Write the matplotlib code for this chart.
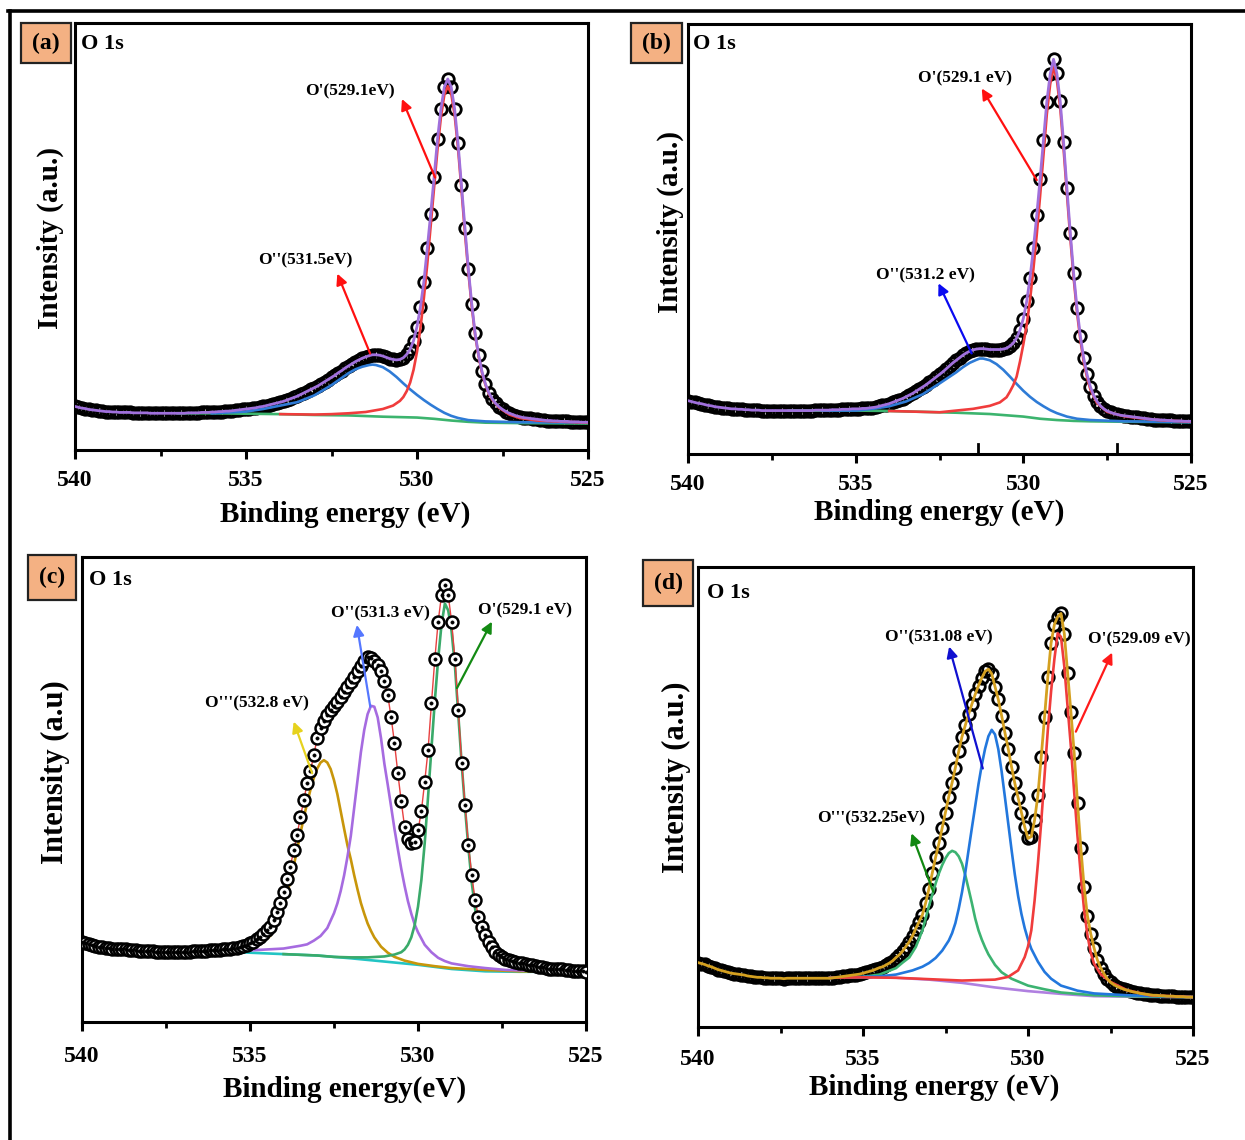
import numpy as np
import matplotlib
matplotlib.use("Agg")
import matplotlib.pyplot as plt
from matplotlib.patches import Rectangle
from matplotlib.lines import Line2D

plt.rcParams["font.family"] = ["Liberation Serif", "DejaVu Serif"]
plt.rcParams["font.weight"] = "bold"

W, H = 1245, 1140

# ---------------- data ----------------
# measured binding-energy grid (eV), 540 -> 525 in 0.1 eV steps
energy = np.round(np.arange(540.0, 524.95, -0.1), 1)
xticks = [540, 535, 530, 525]
xtick_labels = ["540", "535", "530", "525"]
minor_ticks = [537.5, 532.5, 527.5]

# intensities in arbitrary units (0-100 = axis height)
a_data = [10.2, 10.0, 9.8, 9.7, 9.5, 9.4, 9.3, 9.2, 9.1, 9.0,
          9.0, 8.9, 8.9, 8.8, 8.8, 8.8, 8.8, 8.7, 8.7, 8.7,
          8.7, 8.7, 8.6, 8.6, 8.6, 8.6, 8.6, 8.6, 8.6, 8.6,
          8.6, 8.6, 8.6, 8.7, 8.7, 8.7, 8.7, 8.8, 8.8, 8.8,
          8.9, 8.9, 9.0, 9.0, 9.1, 9.1, 9.2, 9.3, 9.4, 9.5,
          9.6, 9.7, 9.8, 9.9, 10.1, 10.2, 10.4, 10.6, 10.8, 11.0,
          11.2, 11.4, 11.7, 12.0, 12.3, 12.6, 13.0, 13.4, 13.8, 14.2,
          14.6, 15.0, 15.5, 16.0, 16.5, 17.0, 17.5, 18.1, 18.6, 19.2,
          19.7, 20.2, 20.7, 21.1, 21.5, 21.8, 22.1, 22.3, 22.3, 22.2,
          22.0, 21.7, 21.4, 21.2, 21.1, 21.2, 21.6, 22.4, 23.6, 25.6,
          28.9, 33.5, 39.4, 47.2, 55.3, 63.9, 72.8, 79.9, 85.0, 86.9,
          85.0, 79.9, 71.8, 62.0, 51.9, 42.5, 34.3, 27.3, 22.3, 18.4,
          15.5, 13.4, 12.0, 10.9, 10.1, 9.5, 9.0, 8.6, 8.3, 8.0,
          7.8, 7.6, 7.5, 7.4, 7.3, 7.2, 7.1, 7.0, 6.9, 6.9,
          6.8, 6.8, 6.7, 6.7, 6.7, 6.6, 6.6, 6.6, 6.5, 6.5,
          6.5]

b_data = [12.4, 12.2, 12.0, 11.8, 11.7, 11.5, 11.3, 11.2, 11.0, 10.9,
          10.8, 10.7, 10.6, 10.5, 10.5, 10.4, 10.4, 10.3, 10.3, 10.2,
          10.2, 10.2, 10.1, 10.1, 10.1, 10.1, 10.1, 10.1, 10.1, 10.1,
          10.1, 10.1, 10.1, 10.1, 10.1, 10.1, 10.1, 10.1, 10.2, 10.2,
          10.2, 10.2, 10.2, 10.3, 10.3, 10.3, 10.4, 10.4, 10.4, 10.5,
          10.5, 10.5, 10.6, 10.6, 10.7, 10.8, 10.9, 11.1, 11.3, 11.5,
          11.7, 12.0, 12.3, 12.6, 12.9, 13.3, 13.7, 14.1, 14.6, 15.1,
          15.6, 16.1, 16.7, 17.3, 17.9, 18.5, 19.1, 19.8, 20.5, 21.2,
          21.8, 22.4, 23.0, 23.5, 23.9, 24.2, 24.4, 24.5, 24.5, 24.4,
          24.3, 24.3, 24.3, 24.3, 24.4, 24.6, 25.1, 25.8, 27.0, 28.8,
          31.5, 35.5, 41.0, 47.8, 55.5, 64.0, 73.0, 81.9, 88.3, 91.8,
          88.5, 82.0, 72.5, 61.8, 51.5, 42.0, 34.0, 27.5, 22.3, 18.5,
          15.6, 13.6, 12.2, 11.2, 10.5, 10.0, 9.7, 9.4, 9.2, 9.0,
          8.9, 8.8, 8.7, 8.6, 8.5, 8.4, 8.3, 8.2, 8.1, 8.0,
          8.0, 7.9, 7.9, 7.8, 7.8, 7.7, 7.7, 7.7, 7.6, 7.6,
          7.6]

c_data = [17.3, 17.0, 16.8, 16.6, 16.4, 16.2, 16.1, 16.0, 15.9, 15.8,
          15.8, 15.7, 15.6, 15.6, 15.5, 15.4, 15.4, 15.3, 15.3, 15.2,
          15.2, 15.2, 15.1, 15.1, 15.1, 15.1, 15.1, 15.1, 15.1, 15.1,
          15.1, 15.1, 15.1, 15.2, 15.2, 15.2, 15.3, 15.3, 15.4, 15.4,
          15.5, 15.5, 15.6, 15.7, 15.8, 15.9, 16.0, 16.2, 16.4, 16.6,
          16.9, 17.3, 17.8, 18.3, 19.0, 19.7, 20.4, 21.9, 23.6, 25.5,
          28.0, 30.8, 33.4, 36.9, 40.2, 44.1, 47.7, 51.3, 54.0, 57.5,
          61.0, 63.3, 64.8, 66.0, 67.0, 67.9, 68.8, 69.9, 71.0, 72.0,
          73.1, 74.2, 75.4, 76.6, 77.6, 78.4, 78.3, 77.6, 76.8, 75.4,
          73.4, 70.3, 65.5, 60.0, 53.5, 47.5, 42.0, 39.3, 38.4, 38.8,
          41.2, 45.3, 51.7, 58.5, 68.5, 78.0, 86.1, 91.8, 94.0, 91.8,
          86.1, 78.0, 67.1, 55.7, 46.7, 38.1, 31.6, 26.2, 22.6, 20.4,
          18.7, 17.2, 16.1, 15.1, 14.5, 14.0, 13.6, 13.3, 13.1, 12.9,
          12.7, 12.6, 12.4, 12.3, 12.2, 12.0, 11.9, 11.8, 11.6, 11.5,
          11.5, 11.4, 11.3, 11.3, 11.2, 11.1, 11.0, 11.0, 10.9, 10.9,
          10.8]

d_data = [14.0, 13.8, 13.6, 13.3, 13.1, 12.8, 12.5, 12.3, 12.1, 11.9,
          11.7, 11.6, 11.5, 11.4, 11.3, 11.1, 11.0, 10.9, 10.8, 10.8,
          10.7, 10.7, 10.6, 10.6, 10.6, 10.6, 10.5, 10.6, 10.6, 10.6,
          10.6, 10.6, 10.6, 10.6, 10.6, 10.6, 10.6, 10.6, 10.6, 10.6,
          10.6, 10.7, 10.8, 10.9, 11.0, 11.1, 11.2, 11.3, 11.4, 11.5,
          11.7, 11.9, 12.1, 12.3, 12.6, 12.9, 13.1, 13.5, 13.9, 14.4,
          15.1, 15.7, 16.5, 17.5, 18.5, 19.8, 21.4, 22.9, 24.4, 27.0,
          30.1, 33.5, 36.9, 39.9, 43.3, 46.6, 50.1, 53.1, 56.4, 59.9,
          63.1, 65.6, 68.0, 70.2, 72.3, 74.2, 75.9, 77.3, 77.8, 76.8,
          74.0, 71.2, 67.7, 64.0, 60.5, 56.6, 53.0, 49.8, 46.6, 43.5,
          41.0, 41.4, 45.0, 50.4, 58.6, 67.3, 76.0, 83.5, 87.5, 89.2,
          89.9, 85.5, 77.0, 68.5, 59.5, 48.8, 39.0, 30.5, 24.2, 20.3,
          17.2, 14.6, 12.9, 11.6, 10.5, 9.7, 9.2, 8.8, 8.5, 8.2,
          8.0, 7.8, 7.6, 7.5, 7.3, 7.2, 7.1, 7.0, 6.9, 6.9,
          6.8, 6.8, 6.7, 6.7, 6.7, 6.6, 6.6, 6.6, 6.5, 6.5,
          6.5]

# ---- fitted components (energy, intensity) ----
a_o1_e = [534.0, 533.0, 532.5, 532.0, 531.5, 531.0, 530.7, 530.5, 530.4, 530.3, 530.2, 530.1, 530.0,
          529.9, 529.8, 529.7, 529.6, 529.5, 529.4, 529.3, 529.2, 529.1, 529.0,
          528.9, 528.8, 528.7, 528.6, 528.5, 528.4, 528.3, 528.2, 528.1, 528.0,
          527.9, 527.8, 527.6, 527.3, 527.0, 526.5, 526.0, 525.0]
a_o1_i = [8.4, 8.3, 8.4, 8.6, 8.9, 9.6, 10.4, 11.5, 12.4, 13.8, 15.8, 18.8, 23.0,
          28.5, 35.5, 43.5, 52.5, 61.5, 70.5, 78.0, 83.2, 85.2, 83.5,
          78.5, 70.6, 61.0, 51.0, 41.8, 33.7, 26.9, 22.0, 18.1, 15.3,
          13.2, 11.8, 9.9, 8.3, 7.5, 6.9, 6.7, 6.4]
a_o2_e = [536.0, 535.0, 534.5, 534.0, 533.5, 533.0, 532.5, 532.0, 531.8, 531.6, 531.4, 531.3, 531.2,
          531.0, 530.8, 530.6, 530.4, 530.2, 530.0, 529.8, 529.6, 529.4, 529.2,
          529.0, 528.8, 528.5, 528.0, 527.0, 525.0]
a_o2_i = [8.6, 9.0, 9.6, 10.4, 11.2, 12.8, 15.2, 18.0, 18.9, 19.5, 19.9, 20.0, 19.9,
          19.4, 18.4, 17.1, 15.6, 14.2, 12.9, 11.7, 10.6, 9.6, 8.7,
          8.0, 7.5, 7.0, 6.7, 6.5, 6.4]
a_bg_e = [537.0, 536.0, 535.0, 534.0, 533.0, 532.0, 531.0, 530.0, 529.5, 529.0, 528.5, 528.0, 527.0, 525.0]
a_bg_i = [8.6, 8.6, 8.5, 8.4, 8.2, 8.1, 7.8, 7.6, 7.3, 6.9, 6.6, 6.4, 6.3, 6.2]

b_o1_e = [534.0, 533.0, 532.5, 532.0, 531.5, 531.0, 530.7, 530.5, 530.4, 530.3, 530.2, 530.1,
          530.0, 529.9, 529.8, 529.7, 529.6, 529.5, 529.4, 529.3, 529.2, 529.1,
          529.0, 528.9, 528.8, 528.7, 528.6, 528.5, 528.4, 528.3, 528.2, 528.1,
          528.0, 527.8, 527.5, 527.0, 526.5, 526.0, 525.0]
b_o1_i = [10.0, 9.8, 9.7, 10.1, 10.5, 11.2, 12.0, 13.2, 14.5, 16.0, 18.0, 21.5,
          25.5, 30.0, 35.8, 43.0, 51.0, 60.0, 69.5, 79.0, 86.0, 90.0,
          87.0, 80.5, 71.0, 60.5, 50.3, 41.0, 33.0, 26.6, 21.5, 17.8,
          15.0, 11.8, 9.8, 8.8, 8.3, 7.9, 7.5]
b_o2_e = [536.0, 535.0, 534.5, 534.0, 533.5, 533.0, 532.5, 532.0, 531.8, 531.6, 531.4, 531.3, 531.2,
          531.0, 530.8, 530.6, 530.4, 530.2, 530.0, 529.8, 529.6, 529.4, 529.2,
          529.0, 528.7, 528.4, 528.0, 527.0, 525.0]
b_o2_i = [10.1, 10.1, 10.5, 11.1, 12.2, 13.9, 16.4, 19.0, 20.2, 21.2, 21.9, 22.2, 22.2,
          21.8, 20.9, 19.6, 18.0, 16.3, 14.7, 13.3, 12.1, 11.1, 10.2,
          9.5, 8.7, 8.2, 7.9, 7.6, 7.4]
b_bg_e = [537.0, 536.0, 535.0, 534.0, 533.0, 532.0, 531.0, 530.0, 529.5, 529.0, 528.5, 528.0, 527.0, 525.0]
b_bg_i = [10.1, 10.1, 10.1, 10.0, 9.8, 9.6, 9.3, 8.7, 8.2, 7.9, 7.7, 7.6, 7.5, 7.4]

c_o3_e = [535.5, 535.0, 534.8, 534.6, 534.4, 534.2,
          534.0, 533.9, 533.8, 533.7, 533.6, 533.5, 533.4, 533.3, 533.2, 533.1,
          533.0, 532.9, 532.8, 532.7, 532.6, 532.5, 532.4, 532.3, 532.2, 532.1,
          532.0, 531.9, 531.8, 531.7, 531.6, 531.5, 531.4, 531.3,
          531.1, 530.9, 530.7, 530.4, 530.0, 529.5, 529.0, 528.0, 527.0, 525.0]
c_o3_i = [15.5, 16.0, 16.5, 17.3, 18.5, 21.0,
          25.0, 27.6, 30.2, 33.5, 37.0, 40.5, 44.0, 47.0, 50.0, 52.5,
          54.5, 55.8, 56.3, 55.8, 54.4, 52.0, 49.0, 45.3, 41.6, 38.0,
          35.0, 31.6, 28.5, 25.6, 23.3, 21.2, 19.6, 18.2,
          16.2, 14.9, 14.0, 13.2, 12.5, 12.0, 11.6, 11.2, 10.9, 10.8]
c_o2_e = [535.5, 535.0, 534.5, 534.0, 533.5, 533.3, 533.1, 532.9, 532.7, 532.5,
          532.4, 532.3, 532.2, 532.1, 532.0, 531.9, 531.8, 531.7, 531.6, 531.5,
          531.4, 531.3, 531.2, 531.1, 531.0, 530.9, 530.8, 530.7, 530.6, 530.5,
          530.4, 530.3, 530.2, 530.1, 530.0,
          529.8, 529.6, 529.4, 529.2, 529.0, 528.5, 528.0, 527.4, 526.5, 525.0]
c_o2_i = [15.3, 15.4, 15.6, 15.8, 16.4, 16.7, 17.5, 18.5, 20.2, 23.4,
          25.5, 28.2, 31.5, 35.5, 40.0, 46.0, 52.0, 58.0, 62.8, 66.2,
          68.0, 67.8, 65.5, 61.0, 55.5, 51.0, 46.3, 41.5, 37.2, 33.0,
          29.3, 26.0, 23.3, 21.0, 19.3,
          16.6, 15.0, 13.8, 13.1, 12.6, 12.0, 11.6, 11.2, 11.0, 10.8]
c_o1_e = [534.0, 533.0, 532.5, 532.0, 531.5, 531.0, 530.7, 530.5, 530.4, 530.3, 530.2, 530.1,
          530.0, 529.9, 529.8, 529.7, 529.6, 529.5, 529.4, 529.3, 529.2, 529.1,
          529.0, 528.9, 528.8, 528.7, 528.6, 528.5, 528.4, 528.3, 528.2, 528.1,
          528.0, 527.8, 527.5, 527.0, 526.5, 526.0, 525.0]
c_o1_i = [14.6, 14.3, 14.0, 13.9, 13.9, 14.1, 14.5, 15.0, 15.6, 16.6, 18.2, 20.8,
          24.8, 30.5, 38.5, 48.5, 58.8, 69.0, 78.0, 85.5, 90.0, 88.5,
          84.0, 76.5, 66.0, 55.5, 46.0, 37.5, 30.0, 24.3, 20.8, 18.3,
          16.6, 14.5, 13.0, 11.8, 11.3, 10.9, 10.8]
c_bg_e = [535.8, 535.0, 534.0, 533.0, 532.0, 531.0, 530.0, 529.0, 528.0, 527.0, 525.0]
c_bg_i = [15.2, 14.9, 14.6, 14.3, 13.7, 13.0, 12.3, 11.4, 10.9, 10.8, 10.8]

d_o2_e = [536.0, 535.0, 534.5, 534.0, 533.5, 533.2, 533.0, 532.8, 532.6, 532.4,
          532.3, 532.2, 532.1, 532.0, 531.9, 531.8, 531.7, 531.6, 531.5, 531.4,
          531.3, 531.2, 531.1, 531.0, 530.9, 530.8, 530.7, 530.6, 530.5, 530.4,
          530.3, 530.2, 530.1, 530.0, 529.9,
          529.7, 529.5, 529.3, 529.0, 528.5, 528.0, 527.0, 526.0, 525.0]
d_o2_i = [10.7, 10.9, 11.0, 11.4, 12.3, 13.1, 13.9, 15.0, 16.6, 18.8,
          20.4, 22.6, 25.7, 29.3, 33.6, 38.5, 43.3, 48.0, 52.8, 57.0,
          60.5, 63.2, 64.6, 63.6, 60.4, 55.6, 50.0, 44.3, 38.6, 33.2,
          28.5, 24.6, 21.5, 19.0, 17.0,
          14.2, 12.0, 10.5, 9.0, 7.9, 7.3, 6.9, 6.7, 6.5]
d_o3_e = [536.0, 535.5, 535.0, 534.5, 534.0, 533.8, 533.6, 533.4, 533.2, 533.0,
          532.9, 532.8, 532.7, 532.6, 532.5, 532.4, 532.3, 532.2, 532.1, 532.0,
          531.9, 531.8, 531.7, 531.6, 531.5, 531.4, 531.3, 531.2,
          531.0, 530.8, 530.5, 530.0, 529.5, 529.0, 528.0, 527.0, 525.0]
d_o3_i = [10.7, 10.8, 10.9, 11.4, 12.8, 14.0, 15.1, 17.4, 21.0, 26.3,
          28.8, 31.2, 33.4, 35.2, 36.7, 37.8, 38.3, 38.0, 37.1, 35.5,
          33.0, 30.0, 26.9, 23.6, 21.0, 19.0, 17.3, 15.8,
          13.5, 11.9, 10.5, 9.0, 8.2, 7.5, 6.9, 6.7, 6.5]
d_o1_e = [536.0, 535.0, 534.0, 533.0, 532.0, 531.5, 531.0, 530.6, 530.3, 530.1, 530.0,
          529.9, 529.8, 529.7, 529.6, 529.5, 529.4, 529.3, 529.2, 529.1, 529.0,
          528.9, 528.8, 528.7, 528.6, 528.5, 528.4, 528.3, 528.2, 528.1, 528.0,
          527.8, 527.5, 527.0, 526.3, 525.0]
d_o1_i = [10.7, 10.8, 10.7, 10.4, 10.1, 10.2, 10.3, 10.9, 12.3, 15.2, 17.5,
          21.0, 27.5, 35.5, 44.5, 54.5, 64.5, 73.0, 80.0, 85.6, 84.8,
          78.4, 69.6, 60.9, 51.0, 41.5, 33.0, 25.5, 20.0, 16.2, 13.8,
          11.5, 9.8, 8.0, 6.9, 6.5]
d_bg_e = [536.0, 535.0, 534.0, 533.0, 532.0, 531.0, 530.0, 529.0, 528.0, 527.0, 525.0]
d_bg_i = [10.7, 10.8, 10.7, 10.3, 9.6, 8.6, 7.8, 7.2, 6.7, 6.6, 6.5]

# ---------------- figure ----------------
fig = plt.figure(figsize=(W / 100, H / 100), dpi=100)


def fx(x):
    return x / W


def fy(y):
    return 1 - y / H


def new_axes(l, t, r, b, pad):
    ax = fig.add_axes([fx(l), fy(b), (r - l) / W, (b - t) / H])
    ax.set_xlim(540, 525)
    ax.set_ylim(0, 100)
    ax.set_yticks([])
    ax.set_xticks(xticks)
    ax.set_xticklabels(xtick_labels)
    ax.set_xticks(minor_ticks, minor=True)
    for s in ax.spines.values():
        s.set_linewidth(2.2)
    ax.tick_params(which="major", direction="out", length=6.5, width=2.2,
                   labelsize=17, pad=pad)
    ax.tick_params(which="minor", direction="out", length=4, width=2.0)
    for lab in ax.get_xticklabels():
        lab.set_fontweight("bold")
    return ax


def panel_text(ax, label, box, o1s_xy, ylab, ylab_xy, ylab_fs, xlab, xlab_xy, xlab_fs):
    l, t, r, b = box
    fig.add_artist(Rectangle((fx(l), fy(b)), (r - l) / W, (b - t) / H,
                             transform=fig.transFigure, facecolor="#F4B183",
                             edgecolor="#222222", lw=1.6))
    fig.text(fx((l + r) / 2), fy((t + b) / 2), label, ha="center", va="center",
             fontsize=17, fontweight="bold")
    fig.text(fx(o1s_xy[0]), fy(o1s_xy[1]), "O 1s", ha="left", va="center",
             fontsize=16, fontweight="bold")
    fig.text(fx(ylab_xy[0]), fy(ylab_xy[1]), ylab, ha="center", va="center",
             rotation=90, fontsize=ylab_fs, fontweight="bold")
    fig.text(fx(xlab_xy[0]), fy(xlab_xy[1]), xlab, ha="center", va="center",
             fontsize=xlab_fs, fontweight="bold")


def note(ax, text, txy, tail, head, color):
    ax.text(txy[0], txy[1], text, ha="center", va="center", fontsize=12.5,
            fontweight="bold", zorder=8)
    ax.annotate("", xy=head, xytext=tail,
                arrowprops=dict(arrowstyle="-|>", color=color, lw=1.6,
                                mutation_scale=16, shrinkA=0, shrinkB=0),
                zorder=8)


open_marker = dict(ls="none", marker="o", ms=8.3, mfc="none", mec="black", mew=2.0)

# ---- (a) ----
ax = new_axes(75, 23, 588, 450, 8)
ax.plot(energy, a_data, zorder=2, **open_marker)
ax.plot(a_bg_e, a_bg_i, color="#3CB46E", lw=1.9, zorder=3)
ax.plot(a_o2_e, a_o2_i, color="#2E7BD6", lw=1.9, zorder=4)
ax.plot(a_o1_e, a_o1_i, color="#F03C3C", lw=1.9, zorder=5)
ax.plot(energy, a_data, color="#A070DC", lw=2.0, zorder=6)
note(ax, "O'(529.1eV)", (531.96, 84.1), (529.47, 63.8), (530.44, 82.2), "#FF1010")
note(ax, "O''(531.5eV)", (533.27, 44.4), (531.37, 22.6), (532.33, 41.3), "#FF1010")
panel_text(ax, "(a)", (21, 23, 71, 63), (81, 44), "Intensity (a.u.)", (50, 238), 21,
           "Binding energy (eV)", (345, 514), 21)

# ---- (b) ----
ax = new_axes(688, 24, 1191, 454, 8)
ax.plot(energy, b_data, zorder=2, **open_marker)
ax.plot(b_bg_e, b_bg_i, color="#3CB46E", lw=1.9, zorder=3)
ax.plot(b_o2_e, b_o2_i, color="#2E7BD6", lw=1.9, zorder=4)
ax.plot(b_o1_e, b_o1_i, color="#F03C3C", lw=1.9, zorder=5)
ax.plot(energy, b_data, color="#A070DC", lw=2.0, zorder=6)
for xm in (531.35, 527.2):
    ax.plot([xm, xm], [0, 0.024], color="black", lw=2.0,
            transform=ax.get_xaxis_transform(), clip_on=False, zorder=7)
note(ax, "O'(529.1 eV)", (531.74, 87.4), (529.60, 63.7), (531.24, 85.0), "#FF1010")
note(ax, "O''(531.2 eV)", (532.93, 41.6), (531.54, 23.4), (532.53, 39.7), "#0A0AF0")
panel_text(ax, "(b)", (631, 23, 682, 63), (693, 44), "Intensity (a.u.)", (670, 222), 21,
           "Binding energy (eV)", (939, 512), 21)

# ---- (c) ----
ax = new_axes(82, 557, 586, 1022, 11)
ax.plot(c_bg_e, c_bg_i, color="#22C4C4", lw=1.9, zorder=2)
ax.plot(c_o3_e, c_o3_i, color="#C8960A", lw=1.9, zorder=2)
ax.plot(c_o2_e, c_o2_i, color="#A66BE0", lw=1.9, zorder=2)
ax.plot(c_o1_e, c_o1_i, color="#3AAA6A", lw=1.9, zorder=3)
ax.plot(energy, c_data, color="#E84040", lw=1.0, zorder=3)
ax.plot(energy, c_data, ls="none", marker="o", ms=8.6, mfc="white", mec="black",
        mew=1.8, zorder=4)
ax.plot(energy, c_data, ls="none", marker="o", ms=2.3, mfc="black", mec="black",
        mew=0.5, zorder=5)
note(ax, "O'''(532.8 eV)", (534.79, 68.5), (533.15, 53.5), (533.70, 64.6), "#E6D21E")
note(ax, "O''(531.3 eV)", (531.12, 87.9), (531.42, 67.8), (531.82, 85.4), "#5577FF")
note(ax, "O'(529.1 eV)", (526.81, 88.6), (528.84, 71.8), (527.80, 86.1), "#138A13")
panel_text(ax, "(c)", (28, 555, 76, 600), (89, 580), "Intensity (a.u)", (55, 772), 22,
           "Binding energy(eV)", (345, 1089), 21)

# ---- (d) ----
ax = new_axes(698, 567, 1193, 1027, 9)
ax.plot(energy, d_data, zorder=2, **open_marker)
ax.plot(d_bg_e, d_bg_i, color="#B080E0", lw=1.9, zorder=3)
ax.plot(d_o3_e, d_o3_i, color="#3CB371", lw=1.9, zorder=4)
ax.plot(d_o2_e, d_o2_i, color="#2277DD", lw=1.9, zorder=4)
ax.plot(d_o1_e, d_o1_i, color="#F03C3C", lw=1.9, zorder=5)
ax.plot(energy, d_data, color="#D4A020", lw=2.0, zorder=6)
note(ax, "O''(531.08 eV)", (532.70, 84.7), (531.37, 56.2), (532.39, 82.7), "#1010D0")
note(ax, "O'(529.09 eV)", (526.62, 84.3), (528.55, 64.2), (527.45, 81.4), "#FF1A1A")
note(ax, "O'''(532.25eV)", (534.76, 45.4), (532.87, 29.4), (533.53, 42.1), "#118811")
panel_text(ax, "(d)", (643, 560, 693, 606), (707, 593), "Intensity (a.u.)", (676, 777), 22,
           "Binding energy (eV)", (934, 1087), 21)

# outer frame (left and top edges)
fig.add_artist(Line2D([fx(9.5), fx(9.5)], [fy(11), 0], transform=fig.transFigure,
                      color="black", lw=2.6))
fig.add_artist(Line2D([fx(8), 1], [fy(11), fy(11)], transform=fig.transFigure,
                      color="black", lw=2.6))

fig.savefig("out.png", dpi=100, facecolor="white")
